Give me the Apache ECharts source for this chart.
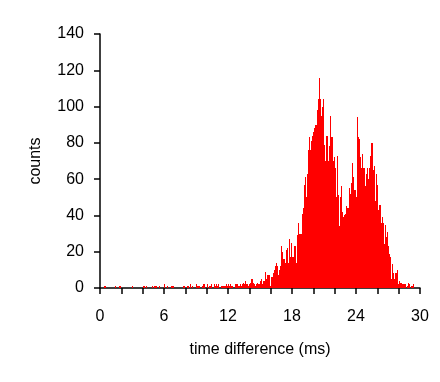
<!DOCTYPE html>
<html>
<head>
<meta charset="utf-8">
<script src="https://cdn.jsdelivr.net/npm/echarts@6/dist/echarts.min.js"></script>
<style>
  html, body { margin: 0; padding: 0; background: #fff; }
  #chart { width: 440px; height: 382px; }
</style>
</head>
<body>
<div id="chart"></div>
<script>
// histogram: 0.1 ms bins from 0 to 30 ms
const binStart = 0
const binWidth = 0.1
const counts = [
  0, 0, 0, 0, 1, 1, 0, 0, 0, 0,
  0, 0, 0, 0, 1, 0, 0, 0, 1, 1,
  0, 0, 0, 0, 0, 0, 0, 0, 0, 0,
  1, 0, 0, 0, 0, 0, 0, 0, 0, 0,
  1, 1, 0, 1, 0, 0, 0, 0, 0, 1,
  0, 1, 1, 0, 0, 1, 0, 0, 0, 0,
  2, 0, 0, 1, 0, 0, 0, 1, 1, 0,
  0, 0, 0, 0, 0, 0, 0, 0, 1, 1,
  0, 0, 1, 0, 2, 0, 1, 0, 0, 0,
  2, 1, 1, 1, 0, 0, 1, 2, 0, 0,
  2, 0, 1, 1, 2, 0, 0, 2, 1, 2,
  1, 2, 0, 1, 1, 1, 1, 1, 2, 1,
  2, 1, 2, 1, 1, 0, 0, 2, 2, 1,
  1, 2, 1, 2, 3, 2, 4, 2, 2, 1,
  2, 3, 5, 3, 2, 1, 2, 3, 2, 2,
  4, 5, 2, 4, 4, 9, 5, 7, 7, 1,
  6, 6, 8, 10, 12, 14, 12, 7, 10, 12,
  23, 20, 16, 14, 21, 22, 14, 27, 17, 25,
  17, 17, 23, 23, 14, 29, 36, 30, 30, 41,
  44, 57, 61, 50, 63, 76, 83, 76, 81, 84,
  86, 88, 90, 98, 104, 116, 104, 95, 100, 104,
  79, 70, 84, 84, 70, 78, 95, 83, 70, 72,
  66, 50, 73, 51, 34, 50, 56, 42, 39, 40,
  41, 45, 44, 55, 52, 58, 69, 61, 54, 54,
  50, 94, 83, 82, 72, 66, 74, 66, 56, 63,
  66, 60, 66, 73, 80, 80, 65, 67, 48, 63,
  57, 43, 46, 36, 39, 36, 24, 35, 28, 31,
  23, 19, 17, 5, 13, 8, 5, 8, 10, 2,
  4, 3, 3, 2, 2, 2, 2, 0, 1, 3,
  2, 0, 1, 2, 0, 0, 0, 0, 0, 0
]
const xTicks = [0, 6, 12, 18, 24, 30]
const yTicks = [0, 20, 40, 60, 80, 100, 120, 140]

// one item per bin: [left edge, right edge, count]
const bins = counts.map((c, i) => [binStart + i * binWidth, binStart + (i + 1) * binWidth, c])

const font = 'Liberation Sans, Arial, sans-serif'
const black = { color: '#000', width: 1.5 }

// 直方图柱子：用坐标轴换算像素，取整避免缝隙
function renderBin (params, api) {
  const v = api.value(2)
  if (!v) return null
  const p0 = api.coord([api.value(0), v])
  const p1 = api.coord([api.value(1), 0])
  const x0 = Math.round(p0[0])
  const x1 = Math.round(p1[0])
  const y0 = Math.round(p0[1])
  const y1 = Math.round(p1[1])
  return {
    type: 'rect',
    shape: { x: x0, y: y0, width: Math.max(x1 - x0, 1), height: y1 - y0 },
    style: { fill: '#ff0000', stroke: null, lineWidth: 0 },
    emphasisDisabled: true
  }
}

const myChart = echarts.init(document.getElementById('chart'), null, { renderer: 'canvas' })
const option = {
  animation: false,
  grid: { left: 100, right: 20, top: 34, bottom: 94, containLabel: false },
  xAxis: {
    type: 'value',
    min: 0,
    max: 30,
    interval: 2,
    name: 'time difference (ms)',
    nameLocation: 'middle',
    nameGap: 54,
    nameTextStyle: { color: '#000', fontSize: 16, fontFamily: font },
    axisLine: { lineStyle: black },
    axisTick: { show: true, length: 6, lineStyle: black },
    axisLabel: {
      color: '#000',
      fontSize: 16,
      fontFamily: font,
      margin: 21,
      formatter: v => (xTicks.indexOf(v) >= 0 ? String(v) : '')
    },
    splitLine: { show: false }
  },
  yAxis: {
    type: 'value',
    min: 0,
    max: 140,
    interval: 20,
    name: 'counts',
    nameLocation: 'middle',
    nameRotate: 90,
    nameGap: 56,
    nameTextStyle: { color: '#000', fontSize: 16, fontFamily: font },
    axisLine: { show: true, lineStyle: black },
    axisTick: { show: true, length: 6, lineStyle: black },
    axisLabel: {
      color: '#000',
      fontSize: 16,
      fontFamily: font,
      margin: 16,
      formatter: v => (yTicks.indexOf(v) >= 0 ? String(v) : '')
    },
    splitLine: { show: false }
  },
  series: [
    {
      type: 'custom',
      renderItem: renderBin,
      encode: { x: [0, 1], y: 2 },
      data: bins,
      silent: true,
      z: 1
    }
  ]
}
myChart.setOption(option)
</script>
</body>
</html>
